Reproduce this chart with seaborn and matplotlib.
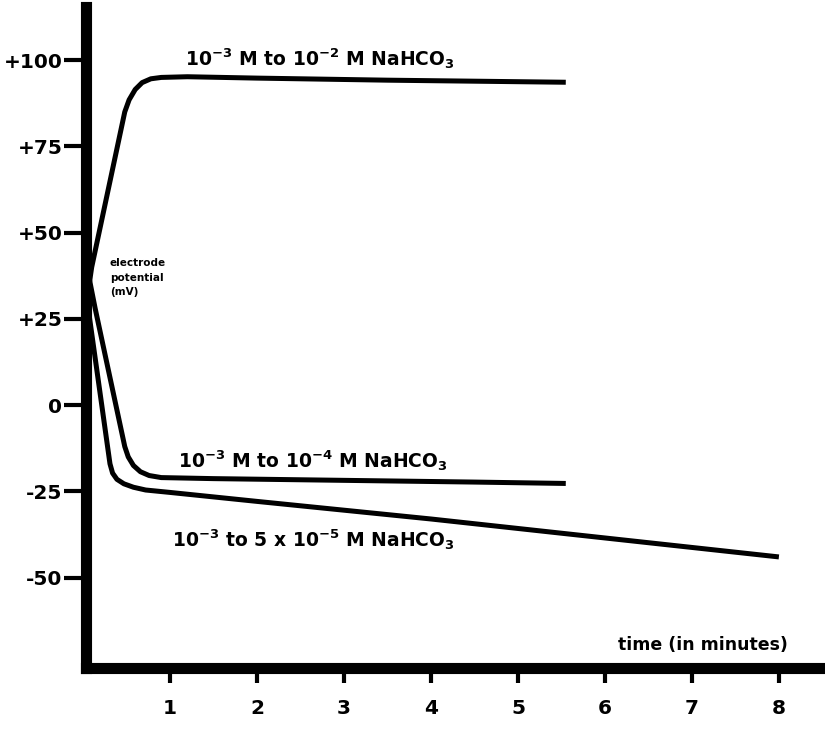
## Import Libraries

import pandas as pd
import matplotlib.pyplot as plt
import seaborn as sns

# values (time in minutes, potential in mV)
up_t = [0.03, 0.10, 0.48, 0.53, 0.60, 0.68, 0.78, 0.90, 1.2, 2.0, 3.5, 5.55]
up_v = [28, 40, 85, 88.5, 91.5, 93.5, 94.6, 95.0, 95.2, 94.8, 94.2, 93.6]

mid_t = [0.03, 0.14, 0.48, 0.52, 0.58, 0.66, 0.76, 0.90, 1.5, 3.0, 4.5, 5.55]
mid_v = [42, 28, -12, -15, -17.5, -19.3, -20.4, -21.0, -21.3, -21.8, -22.3, -22.7]

low_t = [0.03, 0.06, 0.31, 0.34, 0.39, 0.47, 0.58, 0.72, 1.0, 2.0, 4.0, 6.0, 8.0]
low_v = [36, 28, -17, -19.7, -21.5, -22.8, -23.8, -24.6, -25.3, -27.9, -33.0, -38.5, -44.0]

series_names = ["1e-2", "1e-4", "5e-5"]
series_labels = [
    r"10$^{\mathbf{-3}}$ M to 10$^{\mathbf{-2}}$ M NaHCO$_{\mathbf{3}}$",
    r"10$^{\mathbf{-3}}$ M to 10$^{\mathbf{-4}}$ M NaHCO$_{\mathbf{3}}$",
    r"10$^{\mathbf{-3}}$ to 5 x 10$^{\mathbf{-5}}$ M NaHCO$_{\mathbf{3}}$",
]
x_ticks = [1, 2, 3, 4, 5, 6, 7, 8]
y_ticks = [-50, -25, 0, 25, 50, 75, 100]
y_tick_labels = ["-50", "-25", "0", "+25", "+50", "+75", "+100"]


def build_frame():
    parts = []
    for name, t, v in zip(series_names, [up_t, mid_t, low_t], [up_v, mid_v, low_v]):
        parts.append(pd.DataFrame({"time": t, "mV": v, "series": name}))
    return pd.concat(parts, ignore_index=True)


def plot_chart(df):
    sns.set_style("white")
    plt.rcParams['font.family'] = ['DejaVu Sans']
    plt.rcParams['mathtext.fontset'] = 'dejavusans'
    for key in ["text.color", "axes.labelcolor", "xtick.color", "ytick.color"]:
        plt.rcParams[key] = "black"

    fig = plt.figure(figsize=(8.25, 7.34), dpi=100)
    ax = fig.add_axes([0.1042, 0.0899, 0.8958, 0.9005])

    sns.lineplot(
        data=df, x="time", y="mV", hue="series",
        palette=["black"] * 3, linewidth=3.6,
        estimator=None, legend=False, ax=ax
    )
    for line in ax.lines:
        line.set_solid_capstyle("butt")
        line.set_solid_joinstyle("round")

    ax.set_xlim(0.034, 8.53)
    ax.set_ylim(-76.2, 115.4)
    ax.set_xlabel("")
    ax.set_ylabel("")

    for side in ["top", "right"]:
        ax.spines[side].set_visible(False)
    for side in ["left", "bottom"]:
        ax.spines[side].set_linewidth(8)
        ax.spines[side].set_color("black")

    ax.set_xticks(x_ticks)
    ax.set_xticklabels([str(t) for t in x_ticks])
    ax.set_yticks(y_ticks)
    ax.set_yticklabels(y_tick_labels)
    ax.tick_params(axis="y", direction="out", length=16, width=3, pad=1,
                   labelsize=14.5, left=True, colors="black")
    ax.tick_params(axis="x", direction="out", length=11, width=3, pad=11,
                   labelsize=14.5, bottom=True, colors="black")
    for lab in ax.get_xticklabels() + ax.get_yticklabels():
        lab.set_fontweight("bold")

    # curve labels
    ax.text(1.17, 100.5, series_labels[0], fontsize=13.5, fontweight="bold",
            ha="left", va="center")
    ax.text(1.09, -16, series_labels[1], fontsize=13.5, fontweight="bold",
            ha="left", va="center")
    ax.text(1.02, -39, series_labels[2], fontsize=13.5, fontweight="bold",
            ha="left", va="center")

    # axis titles
    ax.text(0.31, 37, "electrode\npotential\n(mV)", fontsize=7.5,
            fontweight="bold", ha="left", va="center", linespacing=1.55)
    ax.text(6.15, -69.5, "time (in minutes)", fontsize=12.5,
            fontweight="bold", ha="left", va="center")

    fig.savefig("out.png", dpi=100)


if __name__ == "__main__":
    plot_chart(build_frame())
